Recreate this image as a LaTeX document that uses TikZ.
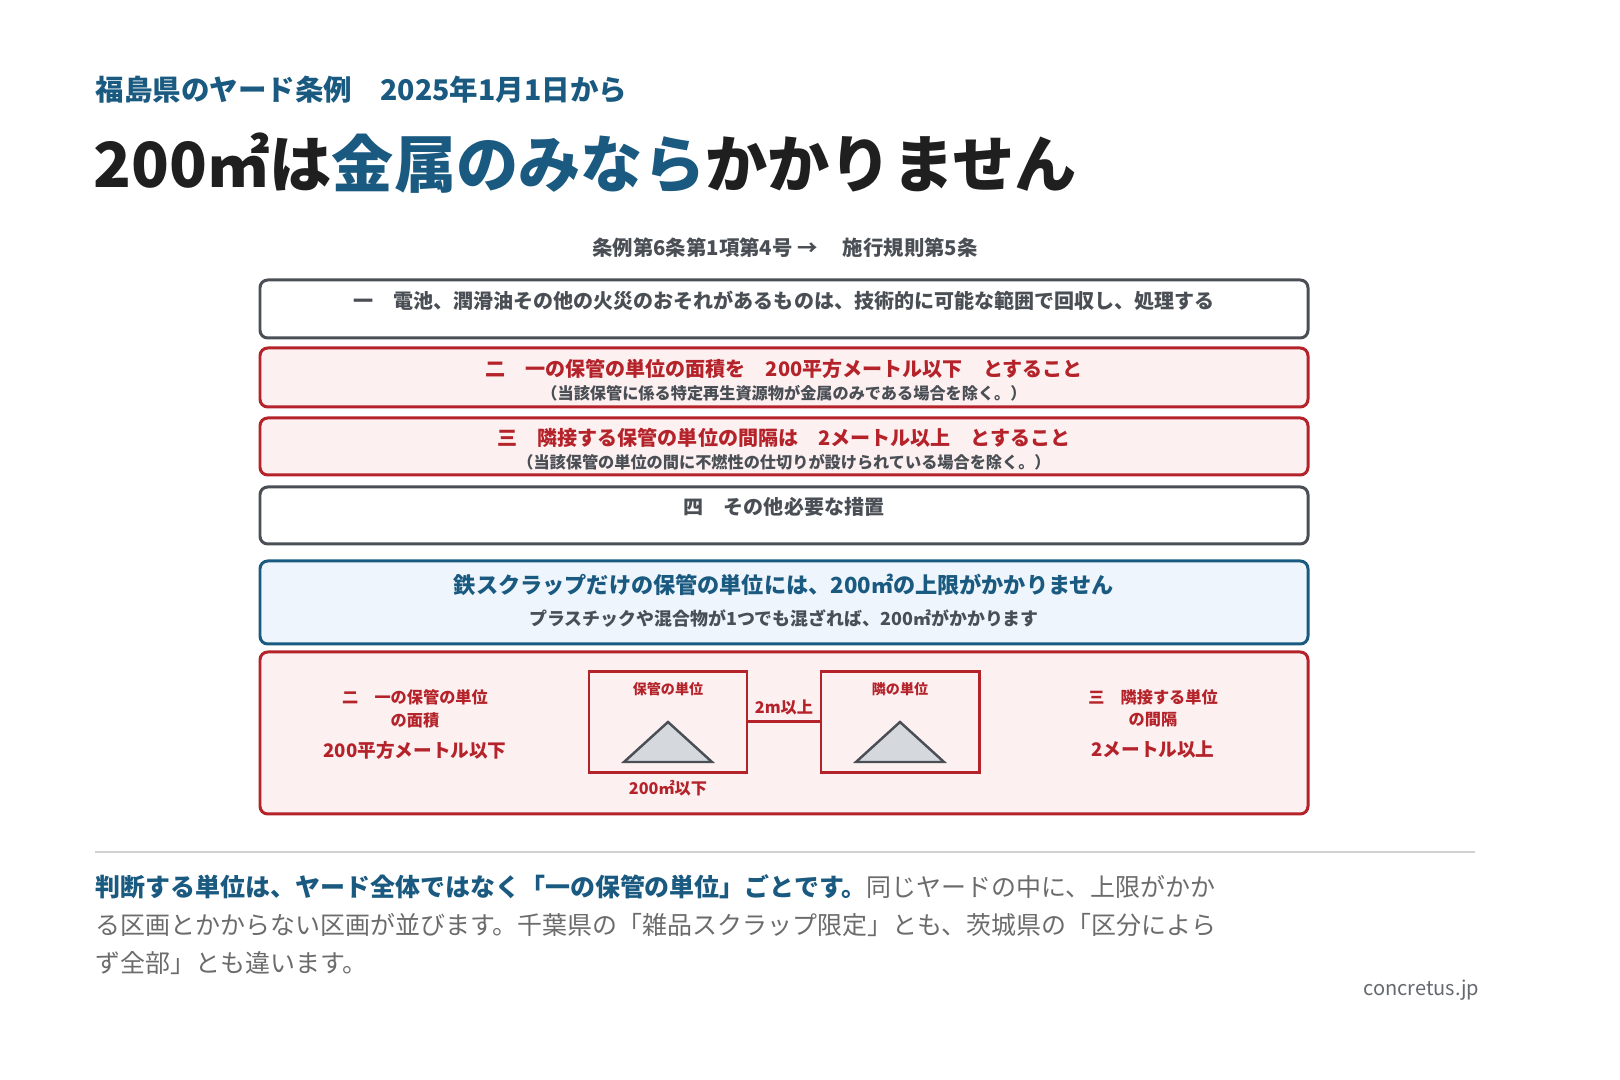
\documentclass[tikz,border=0pt]{standalone}
\usepackage{fontspec}
\setmainfont{Noto Sans CJK JP}
\usetikzlibrary{positioning}
\definecolor{ydblue}{HTML}{1A5A80}
\definecolor{ydred}{HTML}{B5232A}
\definecolor{ydpink}{HTML}{FDF0F1}
\definecolor{ydsky}{HTML}{EEF5FC}
\definecolor{ydgray}{HTML}{4A4F55}
\definecolor{ydtri}{HTML}{D5D8DC}
\tikzset{
  rule/.style={rounded corners=2.2pt, line width=0.85pt},
  plainbox/.style={rule, draw=ydgray, fill=white},
  redbox/.style={rule, draw=ydred, fill=ydpink},
  bluebox/.style={rule, draw=ydblue, fill=ydsky},
  unitbox/.style={draw=ydred, line width=0.85pt, fill=ydpink},
  mound/.style={draw=ydgray, fill=ydtri, line width=0.7pt},
  lbl/.style={font=\bfseries\fontsize{#1}{#1}\selectfont, inner sep=0pt},
}
\begin{document}
\begin{tikzpicture}[x=0.01cm, y=-0.01cm]
    \useasboundingbox (0,0) rectangle (1620,1080);
    % 見出し
    \node[lbl=8.1pt, text=ydblue, anchor=west] (sub) at (95,90) {福島県のヤード条例\quad 2025年1月1日から};
    \node[lbl=17.7pt, text=black!88, anchor=west] (title) at (93,163) {200㎡は\textcolor{ydblue}{金属のみなら}かかりません};
    \node[lbl=5.8pt, text=ydgray] (ref) at (785,248) {条例第6条第1項第4号 → \quad 施行規則第5条};
    % 各号
    \draw[plainbox] (260,280) rectangle (1308,338);
    \node[lbl=5.7pt, text=ydgray] (ichi) at (784,301) {一\quad 電池、潤滑油その他の火災のおそれがあるものは、技術的に可能な範囲で回収し、処理する};
    \draw[redbox] (260,348) rectangle (1308,407);
    \node[lbl=5.7pt, text=ydred] (ni) at (784,369) {二\quad 一の保管の単位の面積を\quad 200平方メートル以下\quad とすること};
    \node[lbl=4.6pt, text=ydgray] (nisub) at (784,393) {（当該保管に係る特定再生資源物が金属のみである場合を除く。）};
    \draw[redbox] (260,418) rectangle (1308,475);
    \node[lbl=5.7pt, text=ydred] (san) at (784,438) {三\quad 隣接する保管の単位の間隔は\quad 2メートル以上\quad とすること};
    \node[lbl=4.6pt, text=ydgray] (sansub) at (784,462) {（当該保管の単位の間に不燃性の仕切りが設けられている場合を除く。）};
    \draw[plainbox] (260,487) rectangle (1308,544);
    \node[lbl=5.7pt, text=ydgray] (yon) at (784,507) {四\quad その他必要な措置};
    % 注記
    \draw[bluebox] (260,561) rectangle (1308,644);
    \node[lbl=6.3pt, text=ydblue] (note) at (784,585) {鉄スクラップだけの保管の単位には、200㎡の上限がかかりません};
    \node[lbl=5.1pt, text=ydgray] (notesub) at (784,619) {プラスチックや混合物が1つでも混ざれば、200㎡がかかります};
    % 図解
    \draw[redbox] (260,652) rectangle (1308,814);
    \node[lbl=4.6pt, text=ydred] (la) at (415,697) {二\quad 一の保管の単位};
    \node[lbl=4.6pt, text=ydred] (lb) at (415,720) {の面積};
    \node[lbl=5.3pt, text=ydred] (lc) at (415,750) {200平方メートル以下};
    \node[lbl=4.6pt, text=ydred] (ra) at (1153,697) {三\quad 隣接する単位};
    \node[lbl=4.6pt, text=ydred] (rb) at (1153,720) {の間隔};
    \node[lbl=5.3pt, text=ydred] (rc) at (1153,750) {2メートル以上};
    \draw[unitbox] (589,672) rectangle (747,773);
    \draw[unitbox] (821,672) rectangle (979,773);
    \coordinate (gapL) at (747,722);
    \coordinate (gapR) at (821,722);
    \draw[ydred, line width=0.85pt] (gapL) -- (gapR);
    \node[lbl=4.6pt, text=ydred] (gap) at (784,707) {2m以上};
    \node[lbl=4pt, text=ydred] (own) at (668,689) {保管の単位};
    \node[lbl=4pt, text=ydred] (nbr) at (900,689) {隣の単位};
    \node[lbl=4.6pt, text=ydred] (area) at (668,788) {200㎡以下};
    \draw[mound] (668,722) -- (712,762) -- (624,762) -- cycle;
    \draw[mound] (900,722) -- (944,762) -- (856,762) -- cycle;
    % 本文
    \draw[black!18, line width=0.5pt] (95,852) -- (1475,852);
    \node[font=\fontsize{7.1pt}{7.1pt}\selectfont, text=black!58, anchor=west, inner sep=0pt] (p1) at (95,887) {\textbf{\textcolor{ydblue}{判断する単位は、ヤード全体ではなく「一の保管の単位」ごとです。}}同じヤードの中に、上限がかか};
    \node[font=\fontsize{7.1pt}{7.1pt}\selectfont, text=black!58, anchor=west, inner sep=0pt] (p2) at (95,925) {る区画とかからない区画が並びます。千葉県の「雑品スクラップ限定」とも、茨城県の「区分によら};
    \node[font=\fontsize{7.1pt}{7.1pt}\selectfont, text=black!58, anchor=west, inner sep=0pt] (p3) at (95,963) {ず全部」とも違います。};
    \node[font=\fontsize{5.7pt}{5.7pt}\selectfont, text=ydgray!85, anchor=east, inner sep=0pt] (site) at (1480,990) {concretus.jp};
\end{tikzpicture}
\end{document}
